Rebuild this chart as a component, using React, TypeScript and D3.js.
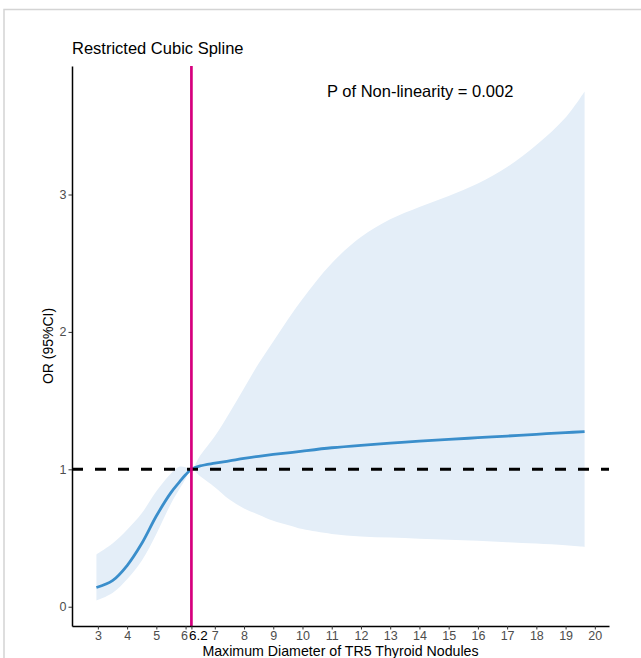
import React, { useEffect, useRef } from "react";
import * as d3 from "d3";

// values
const diameter = [2.95, 3.5, 4.0, 4.5, 5.0, 5.5, 5.8, 6.0, 6.2, 6.5, 7, 7.5, 8, 8.5, 9, 9.5, 10, 11, 12, 13, 14, 15, 16, 17, 18, 19, 19.65];
const orValue = [0.14, 0.19, 0.3, 0.46, 0.66, 0.83, 0.91, 0.96, 1.0, 1.025, 1.045, 1.062, 1.08, 1.095, 1.108, 1.12, 1.133, 1.157, 1.175, 1.19, 1.205, 1.218, 1.23, 1.242, 1.255, 1.267, 1.275];
const lowerCI = [0.045, 0.1, 0.2, 0.335, 0.53, 0.75, 0.86, 0.93, 1.0, 0.95, 0.87, 0.78, 0.715, 0.67, 0.625, 0.595, 0.565, 0.53, 0.512, 0.503, 0.495, 0.488, 0.48, 0.47, 0.46, 0.447, 0.435];
const upperCI = [0.38, 0.46, 0.56, 0.68, 0.84, 0.97, 1.02, 1.015, 1.0, 1.1, 1.24, 1.41, 1.59, 1.77, 1.93, 2.09, 2.24, 2.5, 2.69, 2.82, 2.91, 2.99, 3.08, 3.2, 3.36, 3.56, 3.75];

const xTicks = [3, 4, 5, 6, 6.2, 7, 8, 9, 10, 11, 12, 13, 14, 15, 16, 17, 18, 19, 20];
const yTicks = [0, 1, 2, 3];
const cutoff = 6.2;
const refOR = 1;

const title = "Restricted Cubic Spline";
const pText = "P of Non-linearity = 0.002";
const xTitle = "Maximum Diameter of TR5 Thyroid Nodules";
const yTitle = "OR (95%CI)";

export default function App() {
  const ref = useRef<SVGSVGElement>(null);

  useEffect(() => {
    const width = 641, height = 658;
    const margin = { top: 66, right: 32, bottom: 32, left: 72 };
    const font = "'Liberation Sans', Arial, sans-serif";

    const svg = d3.select(ref.current);
    svg.selectAll("*").remove();
    svg.attr("width", width).attr("height", height);

    // outer frame (top and left only)
    svg.append("path")
      .attr("d", `M4,${height} L4,9.5 L${width},9.5`)
      .attr("fill", "none")
      .attr("stroke", "#d4d4d4")
      .attr("stroke-width", 1.5);

    const data = diameter.map((d, i) => ({ x: d, y: orValue[i], lo: lowerCI[i], hi: upperCI[i] }));

    // expand like ggplot: 5% each side
    const xPad = (d3.max(diameter)! - d3.min(diameter)!) * 0.05;
    const yMin = d3.min(lowerCI)!, yMax = d3.max(upperCI)!;
    const yPad = (yMax - yMin) * 0.05;

    const x = d3.scaleLinear()
      .domain([d3.min(diameter)! - xPad, d3.max(diameter)! + xPad])
      .range([margin.left, width - margin.right]);
    const y = d3.scaleLinear()
      .domain([yMin - yPad, yMax + yPad])
      .range([height - margin.bottom, margin.top]);

    const band = d3.area<any>()
      .x(d => x(d.x))
      .y0(d => y(d.lo))
      .y1(d => y(d.hi))
      .curve(d3.curveCatmullRom.alpha(0.5));

    svg.append("path")
      .datum(data)
      .attr("d", band)
      .attr("fill", "#e4eef8");

    const line = d3.line<any>()
      .x(d => x(d.x))
      .y(d => y(d.y))
      .curve(d3.curveCatmullRom.alpha(0.5));

    svg.append("path")
      .datum(data)
      .attr("d", line)
      .attr("fill", "none")
      .attr("stroke", "#3a8ecb")
      .attr("stroke-width", 2.8);

    // reference line at OR = 1
    svg.append("line")
      .attr("x1", x.range()[0]).attr("x2", x.range()[1])
      .attr("y1", y(refOR)).attr("y2", y(refOR))
      .attr("stroke", "#000")
      .attr("stroke-width", 3)
      .attr("stroke-dasharray", "11,12");

    // cutoff line
    svg.append("line")
      .attr("x1", x(cutoff)).attr("x2", x(cutoff))
      .attr("y1", y.range()[1]).attr("y2", y.range()[0])
      .attr("stroke", "#d6007e")
      .attr("stroke-width", 2.7);

    // X axis
    const gx = svg.append("g")
      .attr("transform", `translate(0,${height - margin.bottom})`)
      .call(d3.axisBottom(x).tickValues(xTicks).tickSize(3.5).tickPadding(2).tickSizeOuter(0).tickFormat(d => String(d)));
    gx.select(".domain").attr("stroke", "#000").attr("stroke-width", 1.5);
    gx.selectAll(".tick line").attr("stroke", "#333");
    gx.selectAll(".tick text")
      .attr("fill", "#4d4d4d")
      .style("font-family", font)
      .style("font-size", "12.5px");
    gx.selectAll(".tick text")
      .filter((d: any) => d === 6)
      .attr("x", -1.5);
    gx.selectAll(".tick text")
      .filter((d: any) => d === cutoff)
      .attr("fill", "#000")
      .attr("x", 6.5)
      .style("font-size", "13.5px")
      .attr("dy", "0.66em");

    // Y axis
    const gy = svg.append("g")
      .attr("transform", `translate(${margin.left},0)`)
      .call(d3.axisLeft(y).tickValues(yTicks).tickSize(3.5).tickPadding(2).tickSizeOuter(0).tickFormat(d3.format("d")));
    gy.select(".domain").attr("stroke", "#000").attr("stroke-width", 1.5);
    gy.selectAll(".tick line").attr("stroke", "#333");
    gy.selectAll(".tick text")
      .attr("fill", "#4d4d4d")
      .style("font-family", font)
      .style("font-size", "12.5px");

    // texts
    svg.append("text")
      .attr("x", margin.left)
      .attr("y", 54)
      .style("font-family", font)
      .style("font-size", "16.5px")
      .text(title);

    svg.append("text")
      .attr("x", 327)
      .attr("y", 97)
      .style("font-family", font)
      .style("font-size", "16.5px")
      .text(pText);

    svg.append("text")
      .attr("x", (margin.left + width - margin.right) / 2)
      .attr("y", 656)
      .attr("text-anchor", "middle")
      .style("font-family", font)
      .style("font-size", "14.2px")
      .text(xTitle);

    svg.append("text")
      .attr("transform", `translate(53,${(margin.top + height - margin.bottom) / 2}) rotate(-90)`)
      .attr("text-anchor", "middle")
      .style("font-family", font)
      .style("font-size", "14px")
      .text(yTitle);
  }, []);

  return <svg ref={ref} style={{ position: "absolute", left: 0, top: 0, display: "block" }} />;
}
